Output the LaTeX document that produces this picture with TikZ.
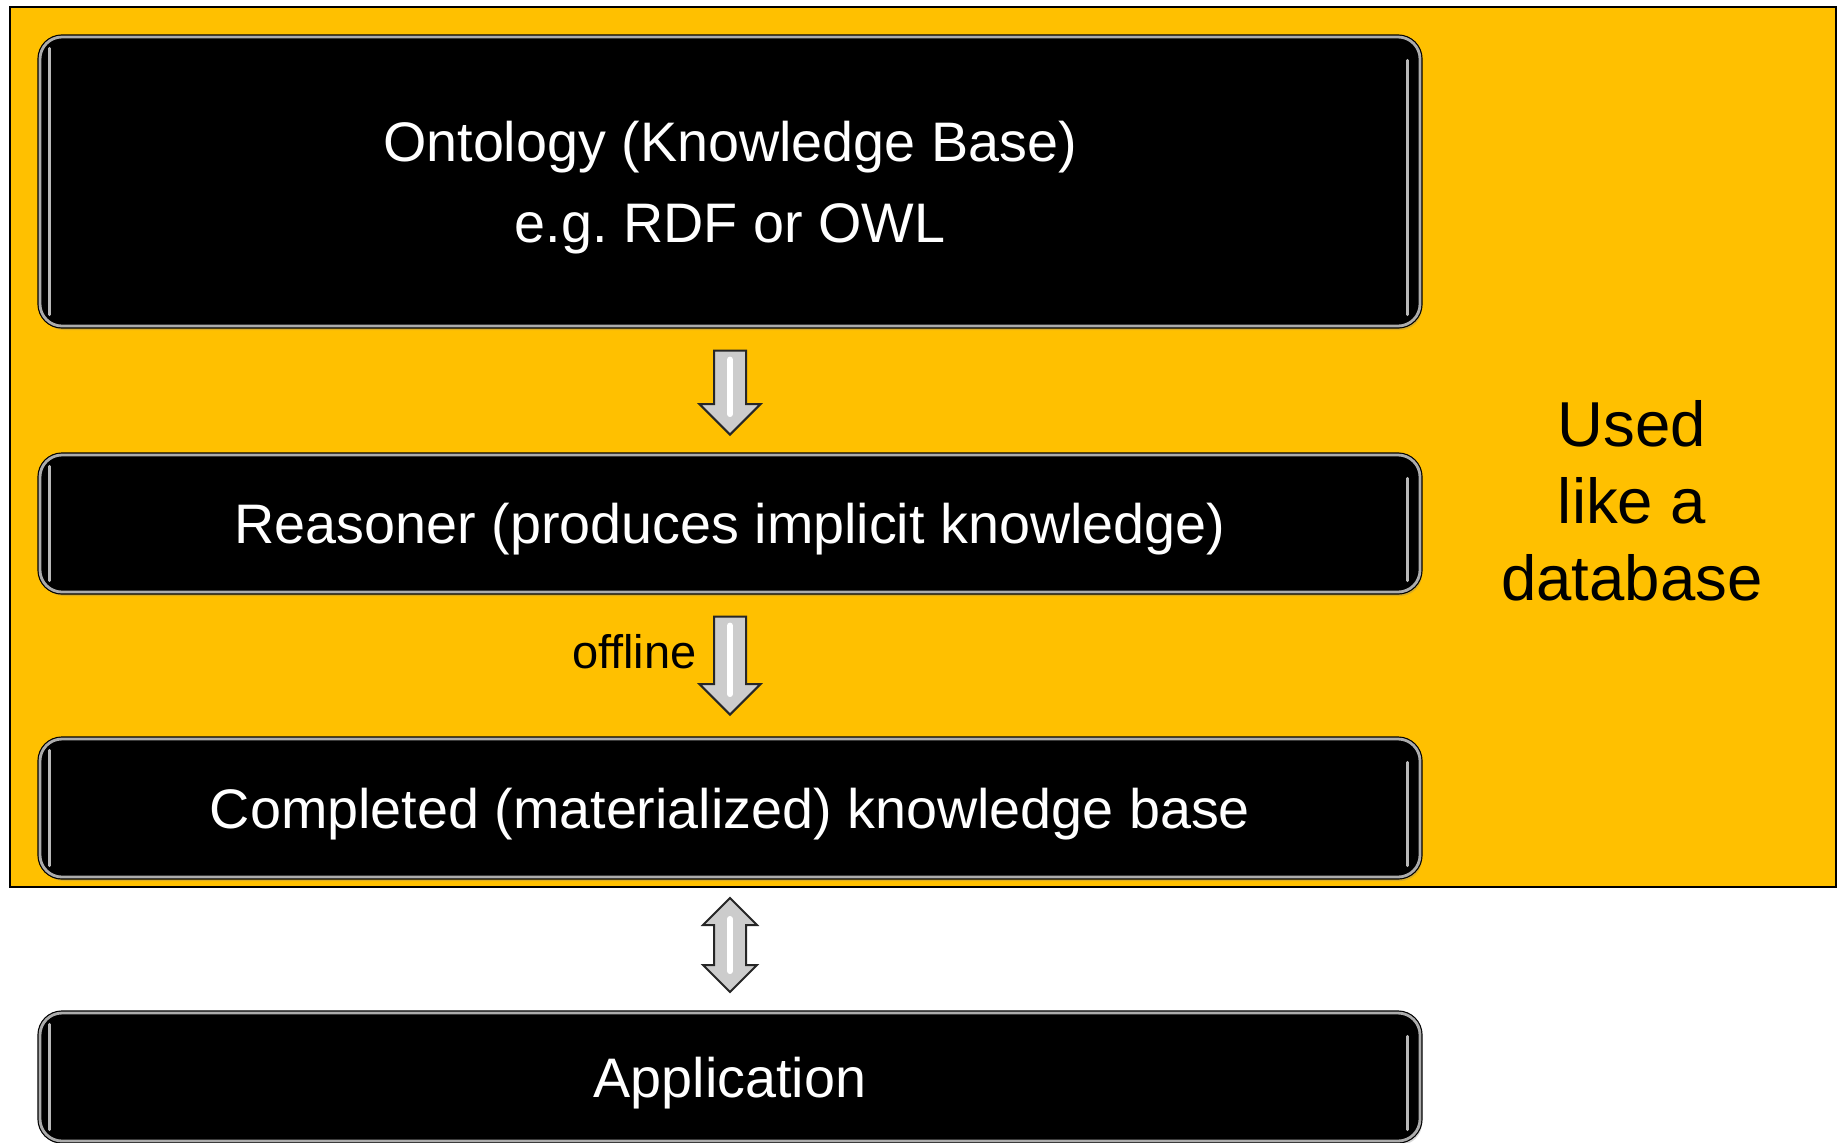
\documentclass[tikz,border=0pt]{standalone}
\usepackage{fontspec}
\setmainfont{Liberation Sans}
\usetikzlibrary{shapes.arrows,shadows,calc}
\definecolor{layergold}{HTML}{FFC000}
\frenchspacing

\begin{document}
\begin{tikzpicture}[x=0.5pt,y=-0.5pt,
    kbbox/.style={rectangle, rounded corners=11pt, fill=black, draw=black, line width=0.6pt,
        double=gray!65, double distance=1.4pt, minimum width=690pt, inner sep=0pt, text depth=0pt,
        text=white, align=center, font=\fontsize{27.85}{40.5}\selectfont,
        drop shadow={shadow xshift=1pt, shadow yshift=-2pt, opacity=0.3}},
    glint/.style={gray!55, line width=1.5pt, line cap=round},
    fatarrow/.style={draw=black!85, line width=1pt, fill=gray!40, rotate=-90,
        inner xsep=0pt, inner ysep=7.5pt, minimum width=0pt},
    sheen/.style={white, line width=3pt, line cap=round}]
            \useasboundingbox (0,0) rectangle (1839,1142);
            \draw[fill=layergold, line width=1pt] (10,7) rectangle (1836,887);

            \node[kbbox, minimum height=144.5pt] (onto) at (730,181.5) {Ontology (Knowledge Base)\\e.g. RDF or OWL};
            \node[kbbox, minimum height=68.5pt] (reas) at (730,523.5) {Reasoner (produces implicit knowledge)};
            \node[kbbox, minimum height=69pt] (comp) at (730,808) {Completed (materialized) knowledge base};
            \node[kbbox, minimum height=64pt] (appl) at (730,1077) {Application};

            \foreach \b in {onto,reas,comp,appl} {
                \draw[glint] ([xshift=5pt,yshift=-6pt]\b.north west) -- ([xshift=5pt,yshift=6pt]\b.south west);
                \draw[glint] ([xshift=-6.5pt,yshift=-12pt]\b.north east) -- ([xshift=-6.5pt,yshift=6pt]\b.south east);
            }

            \node[fatarrow, single arrow, single arrow head extend=7.25pt, minimum height=42pt, anchor=tail] (arr1) at ([yshift=-11.5pt]onto.south) {};
            \node[fatarrow, single arrow, single arrow head extend=7.25pt, minimum height=49pt, anchor=tail] (arr2) at ([yshift=-11.5pt]reas.south) {};
            \node[fatarrow, double arrow, double arrow head extend=5.5pt, minimum height=47pt] (arr3) at ($(comp.south)!0.5!(appl.north)$) {};

            \draw[sheen] ([yshift=-5pt]arr1.tail) -- ([yshift=11pt]arr1.tip);
            \draw[sheen] ([yshift=-5pt]arr2.tail) -- ([yshift=11pt]arr2.tip);
            \draw[sheen] ([yshift=13pt]arr3.center) -- ([yshift=-13pt]arr3.center);

            \node[anchor=base east, inner sep=0pt, font=\fontsize{23.5}{27}\selectfont] (offl) at (697,668) {offline};
            \node[align=center, font=\fontsize{31.75}{38.5}\selectfont] (usage) at (1632,501) {Used\\like a\\database};
        \end{tikzpicture}
\end{document}
